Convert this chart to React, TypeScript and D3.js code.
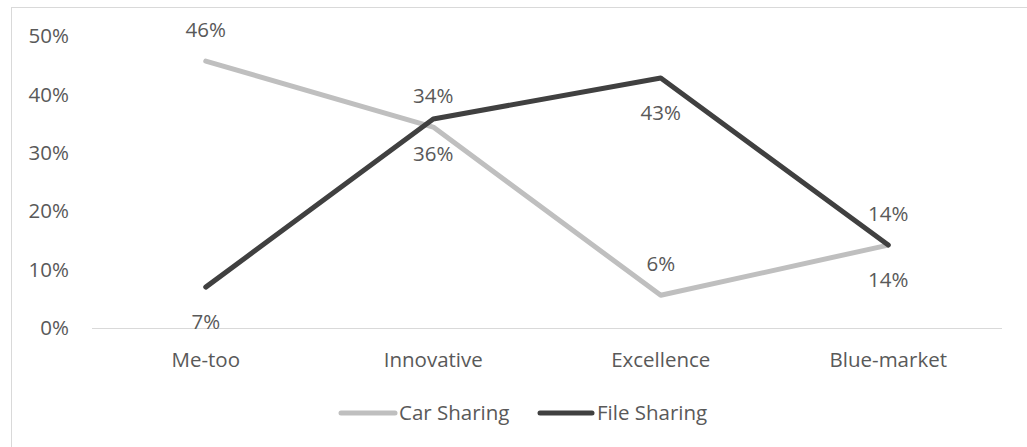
import React from 'react';
import * as d3 from 'd3';

const categories = ['Me-too', 'Innovative', 'Excellence', 'Blue-market'];
const carSharing = [0.457, 0.344, 0.056, 0.142];
const fileSharing = [0.07, 0.358, 0.428, 0.142];
const yTicks = [0, 0.1, 0.2, 0.3, 0.4, 0.5];

const series = [
  { name: 'Car Sharing', values: carSharing, color: '#BFBFBF', labelPos: 'above' },
  { name: 'File Sharing', values: fileSharing, color: '#404040', labelPos: 'below' },
];

const width = 1027;
const height = 447;
const font = '"Open Sans", sans-serif';
const fontSize = 20.5;
const textColor = '#595959';

const App: React.FC = () => {
  const x = d3.scaleBand().domain(categories).range([92, 1002]);
  const y = d3.scaleLinear().domain([0, 0.5]).range([328, 36]);
  const fmt = d3.format('.0%');

  const line = d3.line<number>()
    .x((_, i) => (x(categories[i]) || 0) + x.bandwidth() / 2)
    .y(d => y(d));

  return (
    <svg width={width} height={height} style={{ position: 'fixed', left: 0, top: 0, background: '#fff' }}>
      {/* chart frame, cropped at right and bottom */}
      <rect x={11.5} y={7.5} width={width + 10} height={height + 10} fill="#fff" stroke="#D9D9D9" strokeWidth={1} />

      {/* y axis labels */}
      {yTicks.map(t => (
        <text key={t} x={69} y={y(t)} dy="0.35em" textAnchor="end"
          fontFamily={font} fontSize={fontSize} fill={textColor}>{fmt(t)}</text>
      ))}

      {/* x axis line */}
      <line x1={x.range()[0]} x2={x.range()[1]} y1={y(0) + 0.5} y2={y(0) + 0.5} stroke="#D9D9D9" strokeWidth={1} />

      {/* category labels */}
      {categories.map(c => (
        <text key={c} x={(x(c) || 0) + x.bandwidth() / 2} y={360} dy="0.35em" textAnchor="middle"
          fontFamily={font} fontSize={fontSize} fill={textColor}>{c}</text>
      ))}

      {/* lines */}
      {series.map(s => (
        <path key={s.name} d={line(s.values) || ''} fill="none" stroke={s.color}
          strokeWidth={5} strokeLinejoin="round" strokeLinecap="round" />
      ))}

      {/* data labels */}
      {series.map(s => s.values.map((v, i) => (
        <text key={s.name + i} x={(x(categories[i]) || 0) + x.bandwidth() / 2}
          y={y(v) + (s.labelPos === 'above' ? -31 : 35)} dy="0.35em" textAnchor="middle"
          fontFamily={font} fontSize={fontSize} fill={textColor}>{fmt(v)}</text>
      )))}

      {/* legend */}
      <g>
        <line x1={341} x2={395} y1={413} y2={413} stroke={series[0].color} strokeWidth={5} strokeLinecap="round" />
        <text x={399} y={413} dy="0.35em" fontFamily={font} fontSize={fontSize} fill={textColor}>{series[0].name}</text>
        <line x1={540} x2={592} y1={413} y2={413} stroke={series[1].color} strokeWidth={5} strokeLinecap="round" />
        <text x={597} y={413} dy="0.35em" fontFamily={font} fontSize={fontSize} fill={textColor}>{series[1].name}</text>
      </g>
    </svg>
  );
};

export default App;
